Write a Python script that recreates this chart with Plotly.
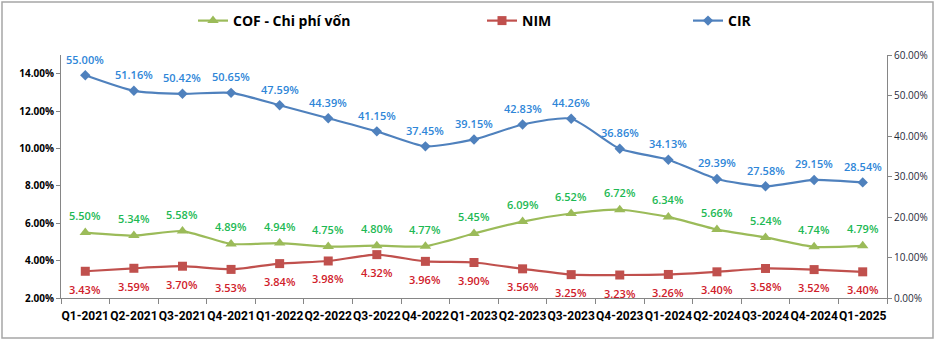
import plotly.graph_objects as go

quarters = ["Q1-2021", "Q2-2021", "Q3-2021", "Q4-2021", "Q1-2022", "Q2-2022", "Q3-2022", "Q4-2022",
            "Q1-2023", "Q2-2023", "Q3-2023", "Q4-2023", "Q1-2024", "Q2-2024", "Q3-2024", "Q4-2024", "Q1-2025"]
cof = [5.50, 5.34, 5.58, 4.89, 4.94, 4.75, 4.80, 4.77, 5.45, 6.09, 6.52, 6.72, 6.34, 5.66, 5.24, 4.74, 4.79]
nim = [3.43, 3.59, 3.70, 3.53, 3.84, 3.98, 4.32, 3.96, 3.90, 3.56, 3.25, 3.23, 3.26, 3.40, 3.58, 3.52, 3.40]
cir = [55.00, 51.16, 50.42, 50.65, 47.59, 44.39, 41.15, 37.45, 39.15, 42.83, 44.26, 36.86, 34.13, 29.39, 27.58, 29.15, 28.54]

left_ticks = [2, 4, 6, 8, 10, 12, 14]
right_ticks = [0, 10, 20, 30, 40, 50, 60]

FONT = "Open Sans"
NARROW = "Liberation Sans Narrow, Roboto, Open Sans"
W, H = 937, 341
ML, MR, MT, MB = 61, 50, 55, 43

fig = go.Figure()

fig.add_trace(go.Scatter(
    x=quarters, y=cof, name="COF - Chi phí vốn", mode="lines+markers",
    line=dict(color="#9BBB59", width=2.2, shape="spline", smoothing=0.6),
    marker=dict(symbol="triangle-up", size=10, color="#9BBB59"),
    legend="legend", yaxis="y"))
fig.add_trace(go.Scatter(
    x=quarters, y=nim, name="NIM", mode="lines+markers",
    line=dict(color="#C0504D", width=2.2, shape="spline", smoothing=0.6),
    marker=dict(symbol="square", size=9, color="#C0504D"),
    legend="legend2", yaxis="y"))
fig.add_trace(go.Scatter(
    x=quarters, y=cir, name="CIR", mode="lines+markers",
    line=dict(color="#4F81BD", width=2.2, shape="spline", smoothing=0.6),
    marker=dict(symbol="diamond", size=8, color="#4F81BD"),
    legend="legend3", yaxis="y2"))

annotations = []
for q, v in zip(quarters, cof):
    annotations.append(dict(x=q, y=v, xref="x", yref="y", text=f"{v:.2f}%", showarrow=False,
                            yshift=17, font=dict(family=FONT, size=11, color="#1DB954", weight=600)))
for q, v in zip(quarters, nim):
    annotations.append(dict(x=q, y=v, xref="x", yref="y", text=f"{v:.2f}%", showarrow=False,
                            yshift=-18, font=dict(family=FONT, size=11, color="#D0202A", weight=600)))
for q, v in zip(quarters, cir):
    annotations.append(dict(x=q, y=v, xref="x", yref="y2", text=f"{v:.2f}%", showarrow=False,
                            yshift=16, font=dict(family=FONT, size=11, color="#2E86D8", weight=600)))

pw = W - ML - MR
ph = H - MT - MB
shapes = [dict(type="rect", xref="paper", yref="paper",
               x0=(2 - ML) / pw, x1=(933 - ML) / pw,
               y0=(H - MB - 338) / ph, y1=(H - MB - 2) / ph,
               line=dict(color="#A6A6A6", width=1.5), fillcolor="rgba(0,0,0,0)", layer="below")]

legend_common = dict(orientation="h", xanchor="left", yanchor="middle", bgcolor="rgba(0,0,0,0)",
                     font=dict(family=FONT, size=14, color="#000000", weight="bold"),
                     itemwidth=30, yref="container")

fig.update_layout(
    width=W, height=H, margin=dict(l=ML, r=MR, t=MT, b=MB),
    paper_bgcolor="white", plot_bgcolor="white",
    showlegend=True,
    legend=dict(**legend_common, x=(193 - ML) / pw, y=1 - 21 / H),
    legend2=dict(**legend_common, x=(482 - ML) / pw, y=1 - 21 / H),
    legend3=dict(**legend_common, x=(688 - ML) / pw, y=1 - 21 / H),
    xaxis=dict(type="category", showgrid=False, showline=True, linecolor="#868686", linewidth=1,
               ticks="outside", ticklen=5, tickcolor="#868686", tickson="boundaries",
               tickangle=0, automargin=False, ticklabelstandoff=7,
               tickfont=dict(family=NARROW, size=12, color="#000000", weight="bold"),
               range=[-0.5, len(quarters) - 0.5]),
    yaxis=dict(range=[2, 15], tickvals=left_ticks, ticktext=[f"{t:.2f}%" for t in left_ticks],
               showgrid=False, showline=True, linecolor="#868686", linewidth=1, zeroline=False,
               ticks="outside", ticklen=4, tickcolor="#868686", automargin=False,
               tickfont=dict(family=FONT, size=10, color="#000000", weight="bold")),
    yaxis2=dict(range=[0, 60], tickvals=right_ticks, ticktext=[f"{t:.2f}%" for t in right_ticks],
                overlaying="y", side="right", showgrid=False, showline=True, linecolor="#868686",
                linewidth=1, zeroline=False, ticks="outside", ticklen=4, tickcolor="#868686",
                automargin=False,
                tickfont=dict(family=FONT, size=10, color="#1F2A3A")),
    annotations=annotations, shapes=shapes,
)

fig.write_html("out.html")
